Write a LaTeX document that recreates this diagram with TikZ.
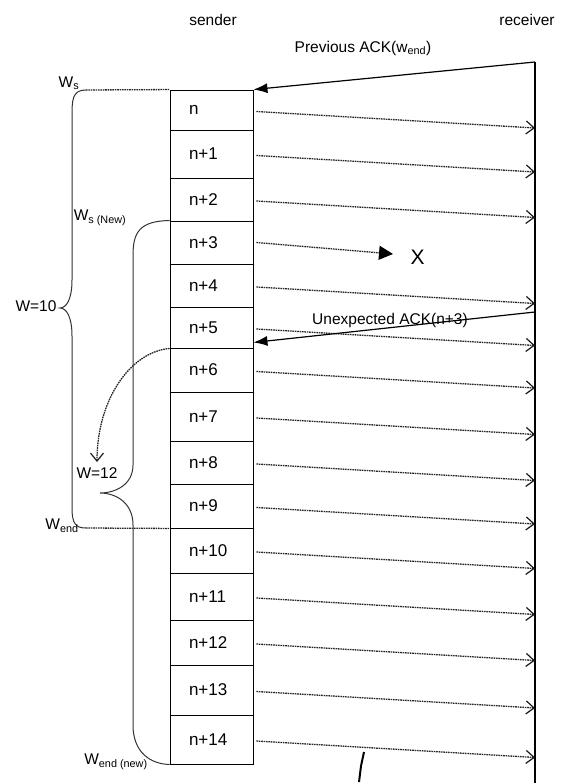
\documentclass[tikz,border=0pt]{standalone}
\usepackage{fontspec}
\setmainfont{Liberation Sans}
\usetikzlibrary{arrows.meta, positioning}

\begin{document}
\begin{tikzpicture}[
  x=1pt, y=1pt,
  slot/.style={rectangle, draw=black, line width=0.9pt, minimum width=83pt,
    text width=45pt, inner xsep=19pt, align=left, font=\fontsize{17}{19}\selectfont},
  lbl/.style={font=\fontsize{15.5}{17}\selectfont, inner sep=0pt},
  msg/.style={dash pattern=on 1.6pt off 0.8pt, draw=black!85, line width=1.3pt,
    -{Straight Barb[length=8pt, width=13pt, line width=1.2pt, color=black!90]}},
  ack/.style={line width=1.2pt, -{Latex[length=14pt, width=10pt]}},
  wbrace/.style={line width=1pt, draw=black!80},
  guide/.style={dash pattern=on 1.6pt off 0.8pt, draw=black!85, line width=1.3pt}
]
  \useasboundingbox (0,0) rectangle (561,-783);

  %% sender window slots
  \foreach \i/\t/\b in {0/90/130, 1/130/178, 2/178/221, 3/221/264, 4/264/307,
      5/307/348, 6/348/392, 7/392/441, 8/441/484, 9/484/528, 10/528/573,
      11/573/620, 12/620/665, 13/665/715, 14/715/764} {
    \pgfmathsetmacro{\slotht}{\b-\t}
    \node[slot, minimum height=\slotht pt] (b\i) at (211.5, {-(\t+\b)/2})
      {n\ifnum\i>0 +\i\fi};
    \coordinate (r\i) at (535, {-(\t+\b)/2-18});
  }

  \node[lbl] (sender) at (213,-20) {sender};
  \node[lbl] (receiver) at (527,-20) {receiver};

  %% receiver line
  \coordinate (rtop) at (535,-62);
  \coordinate (rbot) at (535,-783);
  \draw[line width=1.3pt] (rtop) -- (rbot);

  %% data segments
  \foreach \i in {0,1,2,4,5,6,7,8,9,10,11,12,13,14} {
    \draw[msg] ([xshift=3pt, yshift=-1.5pt]b\i.east) -- (r\i);
  }
  \coordinate (lost) at (393,-254);
  \draw[dash pattern=on 1.6pt off 0.8pt, draw=black!85, line width=1.3pt,
    -{Triangle[length=14pt, width=14pt, color=black]}] ([xshift=3pt]b3.east) -- (lost);
  \node[font=\fontsize{21}{23}\selectfont, right=14pt of lost, yshift=-3pt] (x) {X};

  %% acknowledgements
  \draw[ack] (rtop) -- (b0.north east);
  \node[lbl] (prevack) at (363,-48) {Previous ACK(w\textsubscript{end})};
  \coordinate (rack) at (535,-312);
  \draw[ack] (rack) -- ([yshift=6pt]b5.south east);
  \node[lbl] (unexack) at (390,-320) {Unexpected ACK(n+3)};

  %% old window W=10
  \coordinate (ws) at (86,-90);
  \coordinate (wend) at (86,-528);
  \draw[guide] (ws) -- (b0.north west);
  \draw[guide] (wend) -- (b9.south west);
  \draw[wbrace] (ws) .. controls (72,-90) and (72,-100) .. (72,-118)
    -- (72,-280) .. controls (72,-300) and (66,-308) .. (60,-308)
    .. controls (66,-308) and (72,-316) .. (72,-336)
    -- (72,-508) .. controls (72,-524) and (76,-528) .. (wend);
  \node[lbl] (w10) at (36,-306) {W=10};
  \node[lbl] (wslbl) at (69,-83) {W\textsubscript{s}};
  \node[lbl] (wendlbl) at (62,-526) {W\textsubscript{end}};

  %% new window W=12
  \draw[wbrace] (b3.north west) .. controls (140,-221) and (133,-232) .. (133,-255)
    -- (133,-465) .. controls (133,-485) and (115,-493) .. (100,-493)
    .. controls (115,-493) and (133,-502) .. (133,-525)
    -- (133,-725) .. controls (133,-752) and (150,-764) .. (b14.south west);
  \node[lbl] (w12) at (97,-473) {W=12};
  \node[lbl] (wsnew) at (100,-218) {W\textsubscript{s (New)}};
  \node[lbl] (wendnew) at (116,-762) {W\textsubscript{end (new)}};

  %% window shift
  \coordinate (shift) at (97,-462);
  \draw[msg] (b5.south west) .. controls (130,-352) and (97,-400) .. (shift);

  \draw[line width=2pt] (364,-752) -- (361,-766) -- (359,-782);
\end{tikzpicture}
\end{document}
